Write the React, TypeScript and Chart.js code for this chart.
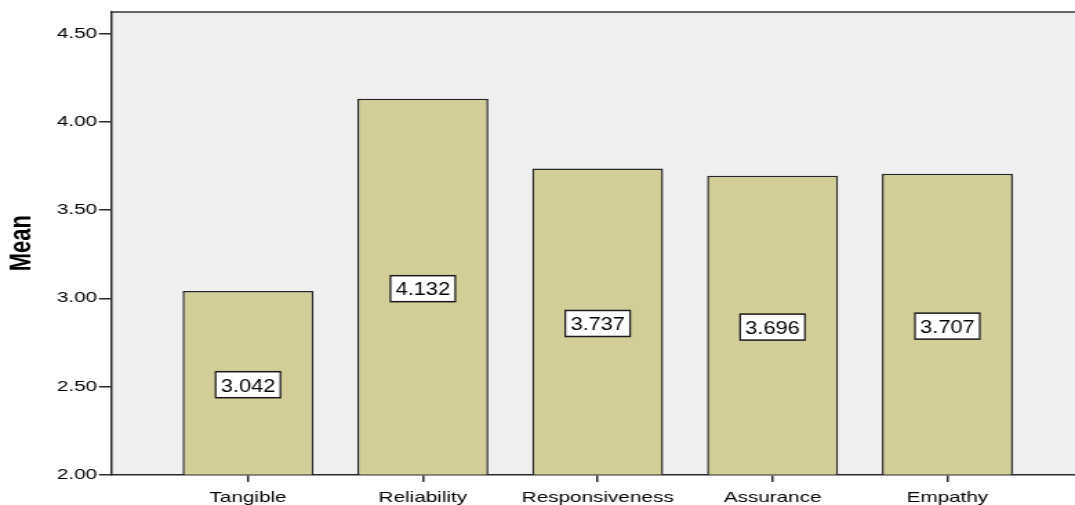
import React, { useEffect, useRef } from 'react';
import { Chart, registerables } from 'chart.js';

Chart.register(...registerables);

// ---- data ----
const categories: string[] = ['Tangible', 'Reliability', 'Responsiveness', 'Assurance', 'Empathy'];
const means: number[] = [3.042, 4.132, 3.737, 3.696, 3.707];
const yTickValues: number[] = [2.0, 2.5, 3.0, 3.5, 4.0, 4.5];
const yTitle = 'Mean';

// ---- layout ----
const W = 1075;
const H = 505;
const STRETCH = 1.38; // the reference is horizontally stretched
const CW = Math.round(W / STRETCH);
const S = W / CW;
const FONT = '"Liberation Sans", Arial, Helvetica, sans-serif';

const plotFrame = {
  id: 'plotFrame',
  beforeDraw(chart: any) {
    const { ctx, chartArea } = chart;
    ctx.save();
    ctx.fillStyle = '#EFEFEF';
    ctx.fillRect(chartArea.left, chartArea.top, chartArea.right - chartArea.left, chartArea.bottom - chartArea.top);
    ctx.strokeStyle = '#333333';
    ctx.lineWidth = 1.5;
    ctx.beginPath();
    ctx.moveTo(chartArea.left, chartArea.top);
    ctx.lineTo(chartArea.right, chartArea.top);
    ctx.stroke();
    ctx.restore();
  },
};

const valueBoxes = {
  id: 'valueBoxes',
  afterDatasetsDraw(chart: any) {
    const { ctx } = chart;
    const yScale = chart.scales.y;
    const basePx = yScale.getPixelForValue(yScale.min);
    const meta = chart.getDatasetMeta(0);
    meta.data.forEach((bar: any, i: number) => {
      const { x, y } = bar.getProps(['x', 'y'], true);
      const cy = (y + basePx) / 2 + 2;
      const text = means[i].toFixed(3);
      const fs = 19;
      ctx.save();
      ctx.translate(x, cy);
      ctx.scale(0.83, 1);
      ctx.font = `${fs}px ${FONT}`;
      const tw = ctx.measureText(text).width;
      const bw = tw + 9;
      const bh = 26;
      ctx.fillStyle = '#ffffff';
      ctx.fillRect(-bw / 2, -bh / 2, bw, bh);
      ctx.lineWidth = 1.5;
      ctx.strokeStyle = '#1a1a1a';
      ctx.strokeRect(-bw / 2, -bh / 2, bw, bh);
      ctx.fillStyle = '#000000';
      ctx.textAlign = 'center';
      ctx.textBaseline = 'alphabetic';
      ctx.fillText(text, 0, (0.716 * fs) / 2);
      ctx.restore();
    });
  },
};

export default function App() {
  const ref = useRef<HTMLCanvasElement | null>(null);

  useEffect(() => {
    if (!ref.current) return;
    const chart = new Chart(ref.current, {
      type: 'bar',
      data: {
        datasets: [
          {
            data: means.map((v, i) => ({ x: i, y: v })),
            backgroundColor: '#D3CE97',
            borderColor: '#262626',
            borderWidth: 1.5,
            barPercentage: 0.749,
            categoryPercentage: 1,
          } as any,
        ],
      },
      options: {
        animation: false,
        responsive: false,
        devicePixelRatio: 1,
        layout: { padding: { top: 12, left: 0, right: 0, bottom: 0 } },
        plugins: {
          legend: { display: false },
          tooltip: { enabled: false },
        },
        scales: {
          x: {
            type: 'linear',
            min: -0.778,
            max: 4.73,
            offset: false,
            afterBuildTicks: (s: any) => {
              s.ticks = categories.map((_, i) => ({ value: i }));
            },
            afterFit: (s: any) => {
              s.height = H - 474.5;
            },
            grid: { drawOnChartArea: false, drawTicks: true, tickLength: 7.5, color: '#2a2a2a', lineWidth: 1.5, offset: false },
            border: { display: true, color: '#2a2a2a', width: 1.5 },
            ticks: {
              padding: 7,
              color: '#000000',
              maxRotation: 0,
              autoSkip: false,
              font: { family: FONT, size: 15 },
              callback: (v: any) => categories[Number(v)] ?? '',
            },
          } as any,
          y: {
            type: 'linear',
            min: 2,
            max: 4.625,
            afterBuildTicks: (s: any) => {
              s.ticks = yTickValues.map((v) => ({ value: v }));
            },
            afterFit: (s: any) => {
              s.width = 112 / S;
            },
            grid: { drawOnChartArea: false, drawTicks: true, tickLength: 9.5, color: '#2a2a2a', lineWidth: 1.5 },
            border: { display: true, color: '#2a2a2a', width: 1.5 },
            ticks: {
              padding: 1.2,
              color: '#000000',
              font: { family: FONT, size: 15 },
              callback: (v: any) => Number(v).toFixed(2),
            },
            title: {
              display: true,
              text: yTitle,
              color: '#000000',
              font: { family: FONT, size: 22, weight: 'bold' },
              padding: { top: 2.8, bottom: 0 },
            },
          } as any,
        },
      },
      plugins: [plotFrame, valueBoxes],
    });
    return () => chart.destroy();
  }, []);

  return (
    <div style={{ position: 'absolute', left: 0, top: 0, width: W, height: H, overflow: 'hidden', background: '#ffffff' }}>
      <div style={{ width: CW, height: H, transform: `scaleX(${S})`, transformOrigin: '0 0' }}>
        <canvas ref={ref} width={CW} height={H} style={{ display: 'block' }} />
      </div>
    </div>
  );
}
